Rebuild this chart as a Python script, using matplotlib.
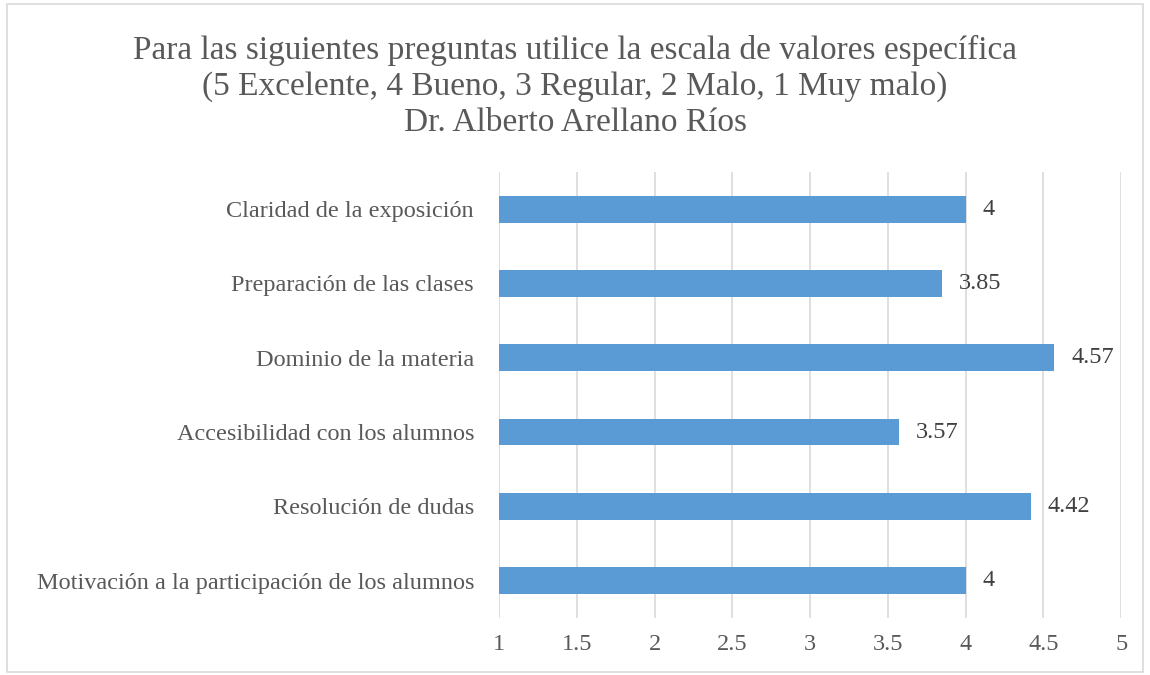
import matplotlib.pyplot as plt
from matplotlib.patches import Rectangle

# datos de la encuesta
categorias = ['Claridad de la exposición',
              'Preparación de las clases',
              'Dominio de la materia',
              'Accesibilidad con los alumnos',
              'Resolución de dudas',
              'Motivación a la participación de los alumnos']
valores = [4, 3.85, 4.57, 3.57, 4.42, 4]
etiquetas = ['4', '3.85', '4.57', '3.57', '4.42', '4']
ticks_x = [1, 1.5, 2, 2.5, 3, 3.5, 4, 4.5, 5]

plt.rcParams['font.family'] = ['Liberation Serif', 'DejaVu Serif']

fig = plt.figure(figsize=(11.5, 6.75), dpi=100)
ax = fig.add_axes([0.434, 0.085, 0.541, 0.66])

y = range(len(categorias))
ax.barh(y, valores, height=0.36, color='#5B9BD5', zorder=3)
for i, (v, t) in enumerate(zip(valores, etiquetas)):
    ax.annotate(t, (v, i), xytext=(12, 0), textcoords='offset points',
                va='center', ha='left', fontsize=17.5, color='#404040')

ax.set_xlim(1, 5)
ax.set_ylim(-0.5, 5.5)
ax.invert_yaxis()
ax.set_xticks(ticks_x)
ax.set_xticklabels([f'{t:g}' for t in ticks_x])
ax.set_yticks(list(y))
ax.set_yticklabels(categorias)
ax.tick_params(length=0, labelsize=17.5, labelcolor='#595959')
ax.tick_params(axis='x', pad=12)
ax.tick_params(axis='y', pad=18)
ax.grid(axis='x', color='#D9D9D9', linewidth=1.2, zorder=0)
for s in ax.spines.values():
    s.set_visible(False)

fig.text(0.5, 0.948, 'Para las siguientes preguntas utilice la escala de valores específica\n'
         '(5 Excelente, 4 Bueno, 3 Regular, 2 Malo, 1 Muy malo)\n'
         'Dr. Alberto Arellano Ríos',
         ha='center', va='top', fontsize=24, color='#595959', linespacing=1.22)

fig.patches.append(Rectangle((0.006, 0.004), 0.988, 0.99, transform=fig.transFigure,
                             fill=False, edgecolor='#D9D9D9', linewidth=1.2))

fig.savefig('out.png', dpi=100)
